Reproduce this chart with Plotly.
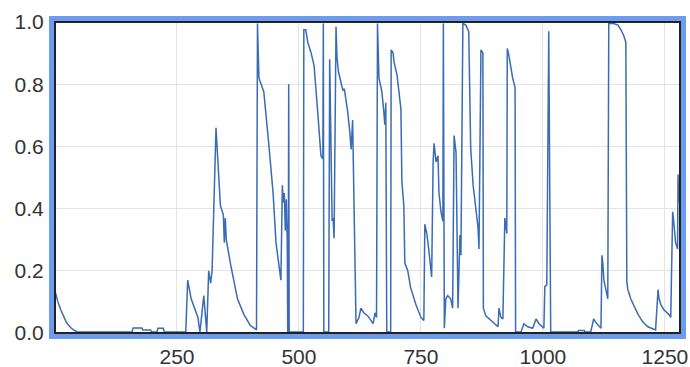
import plotly.graph_objects as go

x_values = [1, 6, 12, 18, 23, 28, 33, 40, 47, 158, 160, 178, 180, 196, 198, 209, 211, 222, 224, 268,
            272, 279, 293, 297, 305, 311, 315, 319, 322, 330, 332, 335, 339, 345, 347, 349, 351, 360, 374, 387,
            400, 413, 415, 418, 428, 438, 447, 453, 463, 466, 468, 470, 472, 474, 476, 477, 478, 479, 480, 509,
            510, 514, 518, 525, 531, 539, 545, 549, 550, 551, 561, 563, 568, 570, 572, 576, 578, 581, 585, 590,
            593, 600, 604, 607, 610, 611, 617, 623, 627, 633, 641, 652, 656, 659, 661, 664, 670, 674, 676, 678,
            680, 688, 689, 693, 695, 701, 705, 709, 711, 715, 717, 723, 729, 740, 750, 756, 758, 762, 766, 772,
            775, 777, 781, 785, 787, 791, 795, 796, 798, 801, 805, 811, 815, 818, 822, 826, 830, 832, 836, 842,
            848, 852, 857, 863, 867, 869, 873, 877, 878, 883, 893, 908, 910, 914, 918, 922, 926, 927, 930, 934,
            938, 943, 944, 955, 961, 969, 979, 986, 992, 1002, 1004, 1008, 1012, 1016, 1072, 1073, 1085, 1086, 1098, 1104,
            1108, 1119, 1121, 1123, 1125, 1129, 1133, 1135, 1145, 1154, 1160, 1166, 1170, 1172, 1174, 1180, 1186, 1195, 1205, 1215,
            1231, 1236, 1238, 1242, 1248, 1258, 1262, 1266, 1268, 1272, 1276, 1277, 1278, 1281]

y_values = [0.13, 0.10, 0.074, 0.05, 0.035, 0.025, 0.016, 0.008, 0.003, 0.003, 0.016, 0.016, 0.01, 0.01, 0.003, 0.003, 0.015, 0.015, 0.003, 0.003,
            0.17, 0.11, 0.05, 0.003, 0.12, 0.003, 0.20, 0.16, 0.20, 0.66, 0.61, 0.53, 0.41, 0.38, 0.29, 0.37, 0.30, 0.22, 0.11, 0.06,
            0.025, 0.01, 0.995, 0.82, 0.775, 0.61, 0.45, 0.29, 0.17, 0.475, 0.42, 0.45, 0.33, 0.43, 0.30, 0.003, 0.003, 0.80, 0.003, 0.003,
            0.975, 0.975, 0.935, 0.90, 0.86, 0.70, 0.57, 0.56, 0.995, 0.003, 0.003, 0.88, 0.36, 0.37, 0.305, 0.985, 0.885, 0.84, 0.81, 0.78,
            0.785, 0.71, 0.65, 0.59, 0.685, 0.57, 0.03, 0.05, 0.08, 0.065, 0.055, 0.03, 0.065, 0.05, 0.995, 0.82, 0.775, 0.71, 0.67, 0.74,
            0.003, 0.003, 0.91, 0.90, 0.87, 0.83, 0.775, 0.72, 0.485, 0.41, 0.225, 0.20, 0.145, 0.09, 0.05, 0.04, 0.35, 0.32, 0.27, 0.18,
            0.55, 0.61, 0.55, 0.57, 0.45, 0.39, 0.36, 0.995, 0.015, 0.11, 0.12, 0.11, 0.08, 0.635, 0.58, 0.08, 0.315, 0.25, 0.995, 0.99,
            0.97, 0.595, 0.475, 0.40, 0.34, 0.27, 0.91, 0.90, 0.08, 0.055, 0.04, 0.02, 0.08, 0.05, 0.045, 0.37, 0.32, 0.915, 0.895, 0.86,
            0.82, 0.79, 0.003, 0.003, 0.03, 0.02, 0.015, 0.045, 0.03, 0.015, 0.15, 0.155, 0.97, 0.003, 0.003, 0.008, 0.008, 0.003, 0.003, 0.045,
            0.035, 0.015, 0.25, 0.22, 0.17, 0.14, 0.11, 0.995, 0.995, 0.99, 0.975, 0.955, 0.935, 0.165, 0.14, 0.11, 0.09, 0.06, 0.035, 0.02,
            0.01, 0.14, 0.11, 0.09, 0.075, 0.06, 0.05, 0.39, 0.36, 0.29, 0.27, 0.51, 0.42, 0.47]

x_ticks = [250, 500, 750, 1000, 1250]
y_ticks = [0.0, 0.2, 0.4, 0.6, 0.8, 1.0]

fig = go.Figure()
fig.add_trace(go.Scatter(x=x_values, y=y_values, mode="lines",
                         line=dict(color="#3a6bb5", width=1.5), hoverinfo="skip"))

font = dict(family="Liberation Sans, Arial, sans-serif", size=21, color="#333333")

fig.update_layout(
    width=690, height=367,
    margin=dict(l=55, r=10, t=22, b=34),
    paper_bgcolor="white", plot_bgcolor="white",
    showlegend=False,
    font=font,
    xaxis=dict(range=[0, 1281], tickvals=x_ticks, ticktext=[str(v) for v in x_ticks],
               showgrid=True, gridcolor="#e4e4e4", gridwidth=1, zeroline=False,
               showline=True, linecolor="#6b9cf0", linewidth=6, mirror=True,
               ticks="", ticklabelstandoff=0, tickfont=font, automargin=False),
    yaxis=dict(range=[0, 1], tickvals=y_ticks, ticktext=[f"{v:.1f}" for v in y_ticks],
               showgrid=True, gridcolor="#e4e4e4", gridwidth=1, zeroline=False,
               showline=True, linecolor="#6b9cf0", linewidth=6, mirror=True,
               ticks="", ticklabelstandoff=1, tickfont=font, automargin=False),
    shapes=[dict(type="rect", xref="paper", yref="paper", x0=0, x1=1, y0=0, y1=1,
                 line=dict(color="#222222", width=2), layer="above")],
)

fig.write_html("out.html", config={"displayModeBar": False, "staticPlot": True},
               post_script="document.body.style.margin='0px';document.body.style.overflow='hidden';")
